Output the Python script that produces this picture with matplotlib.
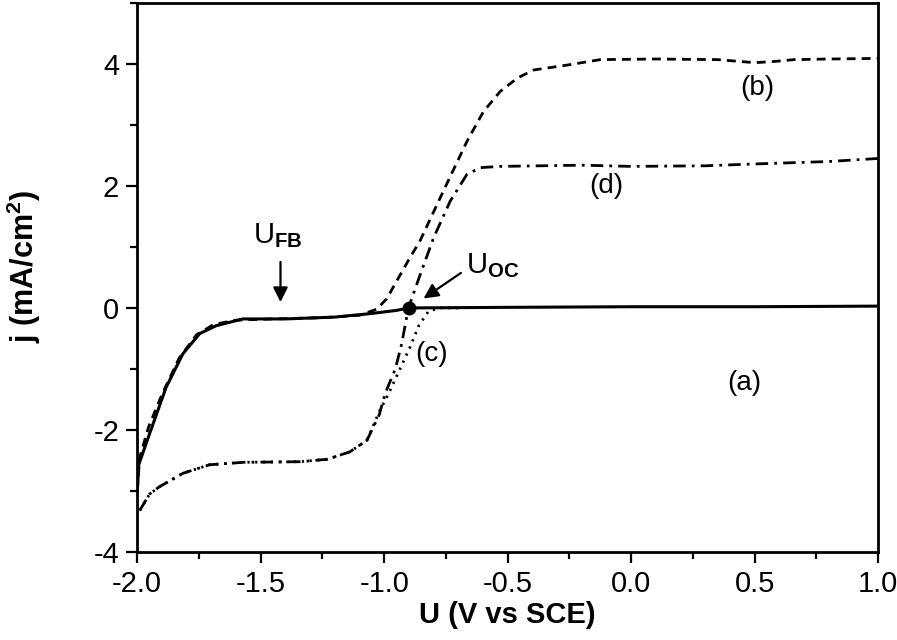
import numpy as np
import matplotlib
matplotlib.use("Agg")
import matplotlib.pyplot as plt
from matplotlib.ticker import MultipleLocator

plt.rcParams['font.family'] = ['Liberation Sans', 'DejaVu Sans']
plt.rcParams['mathtext.fontset'] = 'custom'
plt.rcParams['mathtext.rm'] = 'Liberation Sans'
plt.rcParams['mathtext.bf'] = 'Liberation Sans:bold'
plt.rcParams['axes.unicode_minus'] = False

# curve (a): solid
xa = [-2.0, -1.994, -1.95, -1.883, -1.815, -1.747, -1.68, -1.572, -1.4, -1.2,
      -1.05, -0.95, -0.9, -0.5, 0.0, 0.5, 1.0]
ya = [-3.02, -2.57, -2.06, -1.30, -0.75, -0.42, -0.29, -0.18, -0.18, -0.15,
      -0.09, -0.04, 0.0, 0.01, 0.02, 0.02, 0.03]

# curve (b): dashed
xb = [-2.0, -1.99, -1.954, -1.9, -1.83, -1.76, -1.69, -1.6, -1.45, -1.25, -1.1,
      -1.03, -0.99, -0.895, -0.855, -0.76, -0.665, -0.598, -0.53, -0.46, -0.395,
      -0.26, -0.125, 0.1, 0.35, 0.5, 0.58, 0.66, 0.8, 1.0]
yb = [-3.0, -2.45, -1.95, -1.42, -0.82, -0.44, -0.27, -0.2, -0.18, -0.16, -0.12,
      -0.02, 0.15, 0.83, 1.10, 1.92, 2.73, 3.22, 3.55, 3.77, 3.90,
      3.98, 4.07, 4.08, 4.07, 4.02, 4.04, 4.07, 4.08, 4.09]

# curve (c): dotted
xc = [-1.99, -1.95, -1.91, -1.815, -1.707, -1.57, -1.34, -1.23, -1.14, -1.07,
      -1.02, -0.976, -0.935, -0.895, -0.86, -0.82, -0.77, -0.7]
yc = [-3.32, -3.05, -2.93, -2.71, -2.57, -2.53, -2.52, -2.48, -2.36, -2.17,
      -1.70, -1.35, -0.99, -0.64, -0.29, -0.05, 0.0, 0.0]

# curve (d): dash-dot
xd = [-1.99, -1.95, -1.91, -1.815, -1.707, -1.57, -1.34, -1.23, -1.14, -1.07,
      -1.02, -0.996, -0.955, -0.93, -0.902, -0.854, -0.80, -0.733, -0.665,
      -0.61, -0.53, -0.2, 0.0, 0.3, 0.5, 0.8, 1.0]
yd = [-3.32, -3.05, -2.93, -2.71, -2.57, -2.53, -2.52, -2.48, -2.36, -2.17,
      -1.75, -1.40, -1.0, -0.6, 0.0, 0.55, 1.15, 1.75, 2.19,
      2.30, 2.32, 2.34, 2.32, 2.33, 2.36, 2.40, 2.45]

xticks = [-2.0, -1.5, -1.0, -0.5, 0.0, 0.5, 1.0]
yticks = [-4, -2, 0, 2, 4]

fig = plt.figure(figsize=(8.97, 6.4), dpi=100)
ax = fig.add_axes([0.153, 0.1375, 0.826, 0.858])

lw = 2.0
ax.plot(xc, yc, color='black', lw=lw, dashes=(0.8, 2.0))
ax.plot(xd, yd, color='black', lw=lw, dashes=(4.5, 2.2, 1, 2.2))
ax.plot(xb, yb, color='black', lw=lw, dashes=(3.2, 2.2))
ax.plot(xa, ya, color='black', lw=2.2)
ax.plot([-0.9], [0.0], 'o', color='black', ms=9)

ax.set_xlim(-2.0, 1.0)
ax.set_ylim(-4, 5)
ax.set_xticks(xticks)
ax.set_xticklabels([f"{v:.1f}" for v in xticks])
ax.set_yticks(yticks)
ax.xaxis.set_minor_locator(MultipleLocator(0.25))
ax.yaxis.set_minor_locator(MultipleLocator(1))
ax.tick_params(which='major', direction='out', length=8, width=1.6,
               labelsize=21, top=False, right=False, pad=5)
ax.tick_params(which='minor', direction='out', length=5, width=1.6,
               top=False, right=False)
for s in ax.spines.values():
    s.set_linewidth(2.0)

ax.set_xlabel('U (V vs SCE)', fontsize=21, fontweight='bold', labelpad=2)
ax.set_ylabel(r'j (mA/cm$^\mathbf{2}$)', fontsize=22, fontweight='bold', labelpad=36)
ax.yaxis.label.set_y(0.52)

ax.text(0.51, 3.6, '(b)', fontsize=20, ha='center', va='center')
ax.text(-0.10, 2.0, '(d)', fontsize=20, ha='center', va='center')
ax.text(0.46, -1.23, '(a)', fontsize=20, ha='center', va='center')
ax.text(-0.81, -0.75, '(c)', fontsize=20, ha='center', va='center')

ax.text(-1.43, 1.18, r'U$_{\mathbf{FB}}$', fontsize=21, ha='center', va='center')
ax.annotate('', xy=(-1.42, 0.05), xytext=(-1.42, 0.80),
            arrowprops=dict(arrowstyle='-|>', color='black', lw=1.6,
                            mutation_scale=22))
ax.text(-0.56, 0.69, r'U$_{\mathbf{OC}}$', fontsize=21, ha='center', va='center')
ax.annotate('', xy=(-0.85, 0.13), xytext=(-0.68, 0.60),
            arrowprops=dict(arrowstyle='-|>', color='black', lw=1.6,
                            mutation_scale=22))

fig.savefig('out.png', dpi=100)
